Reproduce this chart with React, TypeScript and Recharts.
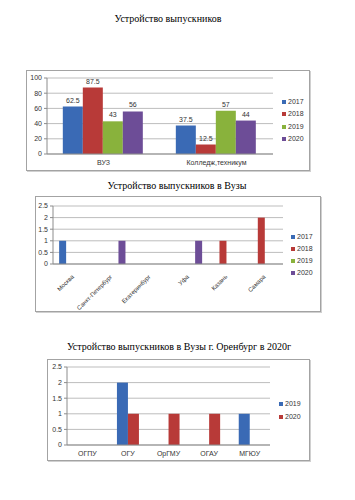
import { BarChart, Bar, XAxis, YAxis, CartesianGrid, LabelList } from 'recharts';

const BLUE = '#3a6ab5';
const RED = '#b83a38';
const GREEN = '#89b23c';
const PURPLE = '#6d4d97';

// chart 1
const types = ['ВУЗ', 'Колледж,техникум'];
const t2017 = [62.5, 37.5];
const t2018 = [87.5, 12.5];
const t2019 = [43, 57];
const t2020 = [56, 44];
const ticks1 = [0, 20, 40, 60, 80, 100];

// chart 2
const cities = ['Москва', 'Санкт-Петербург', 'Екатеринбург', 'Уфа', 'Казань', 'Самара'];
const c2017 = [1, 0, 0, 0, 0, 0];
const c2018 = [0, 0, 0, 0, 1, 2];
const c2019 = [0, 0, 0, 0, 0, 0];
const c2020 = [0, 1, 0, 1, 0, 0];
const ticks2 = [0, 0.5, 1, 1.5, 2, 2.5];

// chart 3
const vuzy = ['ОГПУ', 'ОГУ', 'ОрГМУ', 'ОГАУ', 'МГЮУ'];
const o2019 = [0, 2, 0, 0, 1];
const o2020 = [0, 1, 1, 1, 0];

const years4 = [
  { key: 'y2017', name: '2017', color: BLUE },
  { key: 'y2018', name: '2018', color: RED },
  { key: 'y2019', name: '2019', color: GREEN },
  { key: 'y2020', name: '2020', color: PURPLE },
];
const years2 = [
  { key: 'y2019', name: '2019', color: BLUE },
  { key: 'y2020', name: '2020', color: RED },
];

const data1 = types.map((name, i) => ({ name, y2017: t2017[i], y2018: t2018[i], y2019: t2019[i], y2020: t2020[i] }));
const data2 = cities.map((name, i) => ({ name, y2017: c2017[i], y2018: c2018[i], y2019: c2019[i], y2020: c2020[i] }));
const data3 = vuzy.map((name, i) => ({ name, y2019: o2019[i], y2020: o2020[i] }));

const FONT = '"Liberation Sans", Arial, sans-serif';
const tickStyle = { fontSize: 7, fill: '#333', fontFamily: FONT };
const AXIS = '#8c8c8c';
const GRID = '#bdbdbd';

function Title({ text, cx, cy }: { text: string; cx: number; cy: number }) {
  return (
    <div
      style={{
        position: 'absolute', left: cx, top: cy, transform: 'translate(-50%, -50%)',
        fontFamily: '"Liberation Serif", "Times New Roman", serif', fontSize: 10, color: '#000', whiteSpace: 'nowrap',
      }}
    >
      {text}
    </div>
  );
}

function Box({ left, top, width, height }: { left: number; top: number; width: number; height: number }) {
  return (
    <div
      style={{
        position: 'absolute', left, top, width, height, boxSizing: 'border-box',
        border: '1px solid #a3a3a3', boxShadow: '1px 1px 0 #d0d0d0',
      }}
    />
  );
}

function LegendBox({ items, left, top, step }: { items: { name: string; color: string }[]; left: number; top: number; step: number }) {
  return (
    <div style={{ position: 'absolute', left, top }}>
      {items.map((it, i) => (
        <div key={it.name} style={{ position: 'absolute', left: 0, top: i * step, display: 'flex', alignItems: 'center', fontFamily: FONT, fontSize: 7, color: '#333', lineHeight: '8px' }}>
          <span style={{ display: 'inline-block', width: 4, height: 4, background: it.color, marginRight: 2 }} />
          {it.name}
        </div>
      ))}
    </div>
  );
}

const AngledTick = ({ x, y, payload }: { x?: number; y?: number; payload?: { value: string } }) => (
  <text
    x={(x ?? 0) + 1}
    y={(y ?? 0) + 4}
    transform={`rotate(-45 ${(x ?? 0) + 1} ${(y ?? 0) + 4})`}
    textAnchor="end"
    dominantBaseline="middle"
    style={{ fontSize: 6, fill: '#333', fontFamily: FONT }}
  >
    {payload?.value}
  </text>
);

export default function App() {
  return (
    <div style={{ position: 'absolute', left: 0, top: 0, width: 355, height: 500, background: '#fff' }}>
      {/* Chart 1 */}
      <Title text="Устройство выпускников" cx={168} cy={18} />
      <Box left={26} top={70} width={284} height={101} />
      <div style={{ position: 'absolute', left: 26, top: 70 }}>
        <BarChart width={284} height={101} data={data1} margin={{ top: 8, right: 37, left: 0, bottom: 0 }} barCategoryGap="14%" barGap={0}>
          <CartesianGrid vertical={false} stroke={GRID} />
          <XAxis dataKey="name" height={17} tick={tickStyle} tickLine={false} tickSize={4} tickMargin={2} stroke={AXIS} interval={0} />
          <YAxis width={21} domain={[0, 100]} ticks={ticks1} interval={0} tick={tickStyle} tickSize={3} tickMargin={2} stroke={AXIS} />
          {years4.map((s) => (
            <Bar key={s.key} dataKey={s.key} name={s.name} fill={s.color} isAnimationActive={false}>
              <LabelList dataKey={s.key} position="top" offset={4} style={{ fontSize: 7, fill: '#333', fontFamily: FONT }} />
            </Bar>
          ))}
        </BarChart>
      </div>
      <LegendBox items={years4} left={282} top={98} step={12.3} />

      {/* Chart 2 */}
      <Title text="Устройство выпускников в Вузы" cx={177} cy={185} />
      <Box left={35} top={196} width={286} height={116} />
      <div style={{ position: 'absolute', left: 35, top: 196 }}>
        <BarChart width={286} height={116} data={data2} margin={{ top: 10, right: 38, left: 0, bottom: 0 }} barCategoryGap="16%" barGap={0} style={{ overflow: 'visible' }}>
          <CartesianGrid vertical={false} stroke={GRID} />
          <XAxis dataKey="name" height={48} tick={<AngledTick />} tickLine={false} stroke={AXIS} interval={0} />
          <YAxis width={18} domain={[0, 2.5]} ticks={ticks2} interval={0} tick={tickStyle} tickSize={3} tickMargin={2} stroke={AXIS} />
          {years4.map((s) => (
            <Bar key={s.key} dataKey={s.key} name={s.name} fill={s.color} isAnimationActive={false} />
          ))}
        </BarChart>
      </div>
      <LegendBox items={years4} left={291} top={232.5} step={12.3} />

      {/* Chart 3 */}
      <Title text="Устройство выпускников в Вузы г. Оренбург в 2020г" cx={179} cy={346} />
      <Box left={47} top={359} width={263} height={102} />
      <div style={{ position: 'absolute', left: 47, top: 359 }}>
        <BarChart width={263} height={102} data={data3} margin={{ top: 8, right: 40, left: 0, bottom: 0 }} barCategoryGap="23%" barGap={0}>
          <CartesianGrid vertical={false} stroke={GRID} />
          <XAxis dataKey="name" height={16} tick={tickStyle} tickLine={false} tickSize={4} tickMargin={2} stroke={AXIS} interval={0} />
          <YAxis width={20} domain={[0, 2.5]} ticks={ticks2} interval={0} tick={tickStyle} tickSize={3} tickMargin={2} stroke={AXIS} />
          {years2.map((s) => (
            <Bar key={s.key} dataKey={s.key} name={s.name} fill={s.color} isAnimationActive={false} />
          ))}
        </BarChart>
      </div>
      <LegendBox items={years2} left={279} top={400} step={12.7} />
    </div>
  );
}
